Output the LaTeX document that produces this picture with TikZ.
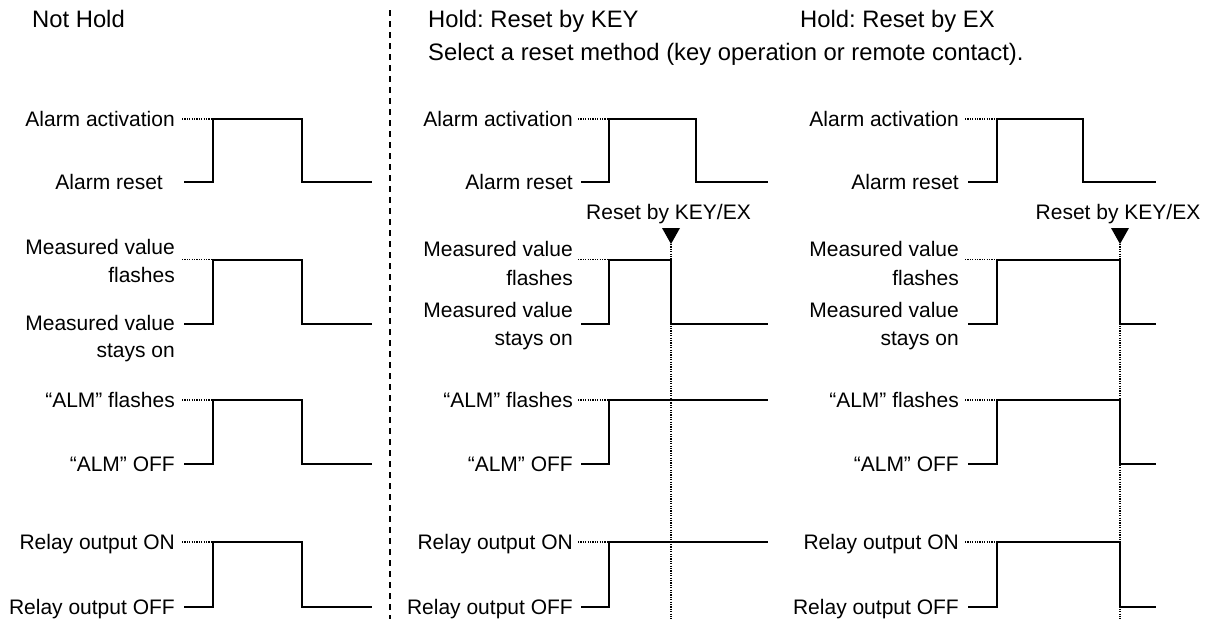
\documentclass[tikz,border=0pt]{standalone}
\usepackage{fontspec}
\setmainfont{Liberation Sans}
\begin{document}
\frenchspacing
\begin{tikzpicture}[x=1pt,y=-1pt,
  sig/.style={line width=2pt, line join=miter, line cap=butt},
  guide/.style={line width=1.2pt, dash pattern=on 1.2pt off 1.2pt},
  sep/.style={line width=1.3pt, dash pattern=on 6pt off 5pt},
  lbl/.style={anchor=base east, inner sep=0pt, font=\fontsize{21}{27.5}\selectfont},
  hdr/.style={anchor=base west, inner sep=0pt, font=\fontsize{23.8}{30}\selectfont},
  rstlabel/.style={anchor=base, inner sep=0pt, font=\fontsize{21}{27.5}\selectfont}
]
\useasboundingbox (0,0) rectangle (1214,619);

% headers
\node[hdr] (h1) at (32,27) {Not Hold};
\node[hdr] (h2) at (428,27) {Hold: Reset by KEY};
\node[hdr] (h3) at (800,27) {Hold: Reset by EX};
\node[hdr] (h4) at (428,60) {Select a reset method (key operation or remote contact).};

% separator
\draw[sep] (390,10) -- (390,619);

% ---------- column 1 ----------
\node[lbl] (a1h) at (175,126) {Alarm activation};
\node[lbl] (a1l) at (163,189) {Alarm reset};
\node[lbl] (m1ha) at (175,254) {Measured value};
\node[lbl] (m1hb) at (175,282) {flashes};
\node[lbl] (m1la) at (175,330) {Measured value};
\node[lbl] (m1lb) at (175,357) {stays on};
\node[lbl] (l1h) at (175,407) {“ALM” flashes};
\node[lbl] (l1l) at (175,471) {“ALM” OFF};
\node[lbl] (r1h) at (175,549) {Relay output ON};
\node[lbl] (r1l) at (175,614) {Relay output OFF};

\foreach \hi/\lo in {119/182, 259.5/324, 400/464, 542/607}{
  \draw[guide] (182,\hi) -- (213,\hi);
  \draw[sig] (184,\lo) -- (213,\lo) -- (213,\hi) -- (302,\hi) -- (302,\lo) -- (372,\lo);
}

% ---------- column 2 ----------
\node[lbl] (a2h) at (573,126) {Alarm activation};
\node[lbl] (a2l) at (573,189) {Alarm reset};
\node[lbl] (m2ha) at (573,256) {Measured value};
\node[lbl] (m2hb) at (573,285) {flashes};
\node[lbl] (m2la) at (573,317) {Measured value};
\node[lbl] (m2lb) at (573,345) {stays on};
\node[lbl] (l2h) at (573,407) {“ALM” flashes};
\node[lbl] (l2l) at (573,471) {“ALM” OFF};
\node[lbl] (r2h) at (573,549) {Relay output ON};
\node[lbl] (r2l) at (573,614) {Relay output OFF};

\foreach \hi in {119, 259.5, 400, 542}{
  \draw[guide] (578,\hi) -- (609,\hi);
}
\draw[sig] (581,182) -- (609,182) -- (609,119) -- (696,119) -- (696,182) -- (768,182);
\draw[sig] (581,324) -- (609,324) -- (609,259.5) -- (671,259.5) -- (671,324) -- (768,324);
\draw[sig] (581,464) -- (609,464) -- (609,400) -- (768,400);
\draw[sig] (581,607) -- (609,607) -- (609,542) -- (768,542);

\node[rstlabel] (k2) at (668.5,219) {Reset by KEY/EX};
\fill (662,228) -- (680,228) -- (671,244) -- cycle;
\coordinate (k2t) at (671,244);
\coordinate (k2b) at (671,619);
\draw[guide] (k2t) -- (k2b);

% ---------- column 3 ----------
\node[lbl] (a3h) at (959,126) {Alarm activation};
\node[lbl] (a3l) at (959,189) {Alarm reset};
\node[lbl] (m3ha) at (959,256) {Measured value};
\node[lbl] (m3hb) at (959,285) {flashes};
\node[lbl] (m3la) at (959,317) {Measured value};
\node[lbl] (m3lb) at (959,345) {stays on};
\node[lbl] (l3h) at (959,407) {“ALM” flashes};
\node[lbl] (l3l) at (959,471) {“ALM” OFF};
\node[lbl] (r3h) at (959,549) {Relay output ON};
\node[lbl] (r3l) at (959,614) {Relay output OFF};

\foreach \hi in {119, 259.5, 400, 542}{
  \draw[guide] (965,\hi) -- (997,\hi);
}
\draw[sig] (968,182) -- (997,182) -- (997,119) -- (1083,119) -- (1083,182) -- (1156,182);
\foreach \hi/\lo in {259.5/324, 400/464, 542/607}{
  \draw[sig] (968,\lo) -- (997,\lo) -- (997,\hi) -- (1120,\hi) -- (1120,\lo) -- (1156,\lo);
}

\node[rstlabel] (k3) at (1118,219) {Reset by KEY/EX};
\fill (1111,228) -- (1129,228) -- (1120,244) -- cycle;
\coordinate (k3t) at (1120,244);
\coordinate (k3b) at (1120,619);
\draw[guide] (k3t) -- (k3b);
\end{tikzpicture}
\end{document}
